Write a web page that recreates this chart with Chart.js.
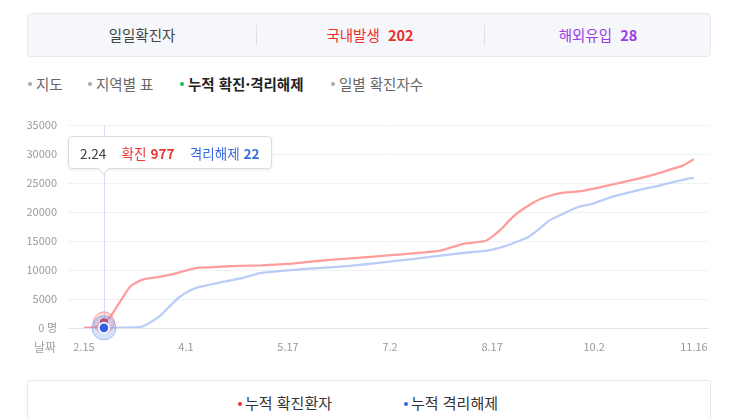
<!DOCTYPE html>
<html lang="ko">
<head>
<meta charset="utf-8">
<script src="https://cdn.jsdelivr.net/npm/chart.js@4.4.1/dist/chart.umd.min.js"></script>
<style>
  html, body { margin: 0; padding: 0; background: #fff; }
  body { width: 729px; height: 419px; overflow: hidden; position: relative;
         font-family: "Noto Sans CJK KR", "Noto Sans", sans-serif; }
  .summary { position: absolute; left: 27px; top: 13px; width: 682px; height: 42px;
             border: 1px solid #e6e8ee; border-radius: 4px; background: #f6f7fa; }
  .cell { position: absolute; top: 0; height: 42px; width: 228px; line-height: 42px;
          text-align: center; font-size: 14.5px; color: #444; }
  .div { position: absolute; top: 11px; width: 1px; height: 20px; background: #dfe1e7; }
  .red { color: #ea2f2f; }
  .pur { color: #9b3de3; }
  .tab { position: absolute; top: 73px; font-size: 14.5px; color: #666; line-height: 22px; white-space: nowrap; }
  .tab i { position: absolute; left: -8px; top: 9px; width: 4px; height: 4px; border-radius: 2px; background: #aaa; }
  .tab.on { color: #222; font-weight: bold; }
  .tab.on i { background: #19c24a; }
  .legend { position: absolute; left: 27px; top: 380px; width: 682px; height: 60px;
            border: 1px solid #e8e8ec; border-radius: 3px; }
  .lg { position: absolute; top: 11px; font-size: 15px; color: #333; white-space: nowrap; line-height: 22px; }
  .lg i { position: absolute; left: -7px; top: 10px; width: 4px; height: 4px; border-radius: 2px; }
  #wrap { position: absolute; left: 0; top: 100px; width: 729px; height: 265px; }
  #tip { position: absolute; height: 33px; line-height: 33px; background: #fff;
         border: 1px solid #dcdcdc; border-radius: 4px; box-shadow: 0 1px 3px rgba(0,0,0,0.08);
         font-size: 13.6px; white-space: nowrap; padding: 0 11px; color: #444; box-sizing: border-box; }
  #tip b { font-weight: bold; }
  #caret { position: absolute; width: 8px; height: 8px; background: #fff; border-right: 1px solid #dcdcdc;
           border-bottom: 1px solid #dcdcdc; transform: rotate(45deg); }
</style>
</head>
<body>
<div class="summary">
  <div class="cell" style="left:0">일일확진자</div>
  <div class="div" style="left:228px"></div>
  <div class="cell red" style="left:228px">국내발생&nbsp; <b>202</b></div>
  <div class="div" style="left:456px"></div>
  <div class="cell pur" style="left:456px">해외유입&nbsp; <b>28</b></div>
</div>
<div class="tab" style="left:36px"><i></i>지도</div>
<div class="tab" style="left:96px"><i></i>지역별 표</div>
<div class="tab on" style="left:188px"><i></i>누적 확진·격리해제</div>
<div class="tab" style="left:339px"><i></i>일별 확진자수</div>

<div id="wrap"><canvas id="c" width="729" height="265"></canvas></div>

<div class="legend">
  <div class="lg" style="left:217px"><i style="background:#ee3333"></i>누적 확진환자</div>
  <div class="lg" style="left:383px"><i style="background:#3a63e6"></i>누적 격리해제</div>
</div>

<script>
// ---- data (day offset from 2.15) ----
const startDate = [2020, 1, 15];           // 2020-02-15
const dayOffsets = [0, 5, 9, 12, 15, 18, 21, 26, 30, 34, 39, 43, 48, 52, 57, 63, 70, 80, 92, 100, 111, 120, 132, 145, 160, 171, 181, 184, 188, 192, 196, 200, 205, 210, 215, 223, 230, 238, 246, 254, 260, 264, 270, 275];
const confirmed = [28, 104, 977, 2000, 3800, 5600, 7200, 8300, 8600, 8800, 9200, 9600, 10100, 10400, 10450, 10600, 10700, 10800, 11050, 11350, 11750, 12000, 12350, 12750, 13300, 14500, 15000, 15750, 17000, 18650, 20000, 21000, 22100, 22800, 23250, 23550, 24050, 24700, 25400, 26150, 26800, 27300, 28000, 29100];
const released = [9, 16, 22, 24, 30, 50, 80, 250, 1000, 2000, 3900, 5300, 6500, 7100, 7500, 8000, 8500, 9500, 9950, 10200, 10450, 10700, 11200, 11750, 12450, 12930, 13300, 13500, 13900, 14400, 15000, 15600, 17000, 18600, 19500, 20900, 21500, 22600, 23400, 24100, 24600, 25000, 25550, 25900];
const tickDays = [0, 46, 92, 138, 184, 230, 275];
const tickLabels = ['2.15', '4.1', '5.17', '7.2', '8.17', '10.2', '11.16'];
const yTicks = [0, 5000, 10000, 15000, 20000, 25000, 30000, 35000];
const activeIndex = 2;   // 2.24

function dateLabel(d) {
  const dt = new Date(startDate[0], startDate[1], startDate[2] + d);
  return (dt.getMonth() + 1) + '.' + dt.getDate();
}

const hoverPlugin = {
  id: 'hover',
  beforeDatasetsDraw(chart) {
    const p = chart.getDatasetMeta(0).data[activeIndex];
    const a = chart.chartArea, ctx = chart.ctx;
    ctx.save();
    ctx.strokeStyle = '#dadcf6';
    ctx.lineWidth = 1;
    ctx.beginPath();
    ctx.moveTo(Math.round(p.x) + 0.5, a.top);
    ctx.lineTo(Math.round(p.x) + 0.5, a.bottom);
    ctx.stroke();
    ctx.restore();
  },
  afterDatasetsDraw(chart) {
    const ctx = chart.ctx;
    const r = chart.getDatasetMeta(0).data[activeIndex];
    const b = chart.getDatasetMeta(1).data[activeIndex];
    ctx.save();
    ctx.beginPath(); ctx.arc(r.x, r.y, 10.5, 0, Math.PI * 2);
    ctx.fillStyle = 'rgba(250,120,120,0.28)'; ctx.fill();
    ctx.strokeStyle = 'rgba(235,110,110,0.55)'; ctx.lineWidth = 1; ctx.stroke();
    ctx.beginPath(); ctx.arc(r.x, r.y, 4, 0, Math.PI * 2);
    ctx.fillStyle = '#d23048'; ctx.fill();
    ctx.beginPath(); ctx.arc(b.x, b.y, 12, 0, Math.PI * 2);
    ctx.fillStyle = 'rgba(120,155,240,0.3)'; ctx.fill();
    ctx.strokeStyle = 'rgba(100,140,235,0.55)'; ctx.lineWidth = 1; ctx.stroke();
    ctx.beginPath(); ctx.arc(b.x, b.y, 6, 0, Math.PI * 2);
    ctx.fillStyle = '#ffffff'; ctx.fill();
    ctx.beginPath(); ctx.arc(b.x, b.y, 4.3, 0, Math.PI * 2);
    ctx.fillStyle = '#2f62e2'; ctx.fill();
    ctx.restore();
  },
  afterDraw(chart) {
    const ctx = chart.ctx, xs = chart.scales.x;
    ctx.save();
    ctx.fillStyle = '#a0a0a0';
    ctx.font = '12px "Noto Sans CJK KR", sans-serif';
    ctx.textBaseline = 'middle';
    ctx.textAlign = 'left';
    ctx.fillText('날짜', 34, xs.top + 19);
    ctx.restore();
  }
};

const chart = new Chart(document.getElementById('c'), {
  type: 'line',
  data: {
    datasets: [
      { label: '누적 확진환자', data: dayOffsets.map((d, i) => ({ x: d, y: confirmed[i] })),
        borderColor: 'rgba(255,140,140,0.85)', borderWidth: 2.3, pointRadius: 0, tension: 0.15, fill: false },
      { label: '누적 격리해제', data: dayOffsets.map((d, i) => ({ x: d, y: released[i] })),
        borderColor: 'rgba(175,195,248,0.85)', borderWidth: 2.3, pointRadius: 0, tension: 0.15, fill: false }
    ]
  },
  options: {
    responsive: false,
    animation: false,
    events: [],
    layout: { padding: { top: 25, right: 20, left: 0, bottom: 0 } },
    plugins: { legend: { display: false }, tooltip: { enabled: false } },
    scales: {
      x: {
        type: 'linear', min: -7.2, max: 281.8,
        grid: { display: false, drawTicks: false },
        border: { display: false },
        afterBuildTicks: s => { s.ticks = tickDays.map(v => ({ value: v })); },
        afterFit: s => { s.height = 37; },
        ticks: {
          autoSkip: false, maxRotation: 0, padding: 12, color: '#9a9a9a',
          font: { size: 11, family: '"Noto Sans CJK KR", sans-serif' },
          callback: v => tickLabels[tickDays.indexOf(v)]
        }
      },
      y: {
        min: 0, max: 35000,
        afterBuildTicks: s => { s.ticks = yTicks.map(v => ({ value: v })); },
        afterFit: s => { s.width = 68; },
        grid: { color: c => c.tick && c.tick.value === 0 ? '#e2e3ea' : '#eff1f6', drawTicks: false },
        border: { display: false },
        ticks: {
          padding: 11, color: '#9a9a9a',
          font: { size: 11, family: '"Noto Sans CJK KR", sans-serif' },
          callback: v => v === 0 ? '0 명' : String(v)
        }
      }
    }
  },
  plugins: [hoverPlugin]
});

// tooltip built from the active point
(function () {
  const p = chart.getDatasetMeta(0).data[activeIndex];
  const wrap = document.getElementById('wrap');
  const tip = document.createElement('div');
  tip.id = 'tip';
  tip.innerHTML = dateLabel(dayOffsets[activeIndex]) +
    '&nbsp;&nbsp;&nbsp; <span style="color:#ee3535">확진 <b>' + confirmed[activeIndex] + '</b></span>' +
    '&nbsp;&nbsp;&nbsp; <span style="color:#3a6ae6">격리해제 <b>' + released[activeIndex] + '</b></span>';
  wrap.appendChild(tip);
  tip.style.left = (p.x - 36) + 'px';
  tip.style.top = (chart.chartArea.top + 11) + 'px';
  const caret = document.createElement('div');
  caret.id = 'caret';
  wrap.appendChild(caret);
  caret.style.left = (p.x - 4.5) + 'px';
  caret.style.top = (chart.chartArea.top + 11 + 33 - 5.5) + 'px';
})();
</script>
</body>
</html>
